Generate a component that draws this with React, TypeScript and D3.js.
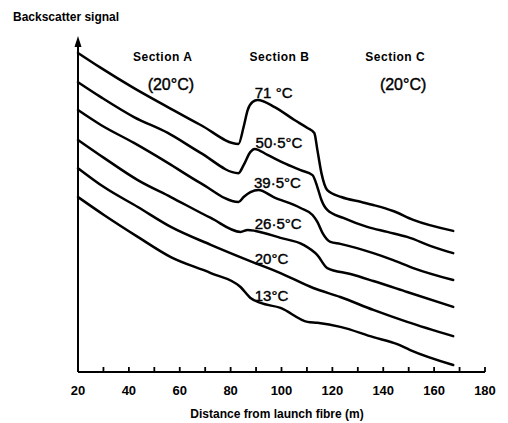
import React, { useEffect, useRef } from 'react'
import * as d3 from 'd3'

type Pt = [number, number]

// distance (m), backscatter signal (arbitrary units, 0 = axis, 100 = arrow)
const trace71: Pt[] = [
  [20, 96.1], [29, 91.6], [42, 85.5], [55.3, 79.8], [68.2, 74.4], [83.1, 68.7],
  [85.1, 73.8], [86.7, 78.9], [88.6, 81.3], [90.6, 81.9], [97.3, 79.8],
  [105.1, 75.9], [110.2, 73.5], [112.9, 72.0], [114.1, 66.9], [115.7, 59.9],
  [118, 54.8], [123.5, 52.7], [131.4, 51.2], [136.1, 50.3], [143.9, 48.5],
  [151.8, 45.8], [167.5, 42.5],
]
const trace50: Pt[] = [
  [20, 87.3], [29, 82.8], [42, 76.8], [55.3, 72.0], [68.2, 66.0], [83.1, 59.9],
  [85.1, 62.3], [87.8, 66.3], [89.4, 67.2], [94.5, 65.4], [100.8, 63.0],
  [107.5, 60.8], [112.2, 59.3], [114.1, 55.7], [115.7, 51.8], [118, 48.8],
  [124.3, 46.4], [133.7, 43.7], [141.6, 42.2], [149.4, 40.7], [159.6, 37.7],
  [167.5, 35.8],
]
const trace39: Pt[] = [
  [20, 78.9], [29, 74.4], [42, 69.0], [55.3, 63.0], [68.2, 56.9], [83.1, 51.2],
  [85.1, 52.7], [87.8, 54.2], [91.0, 54.8], [96.9, 52.7], [107.5, 49.4],
  [112.2, 47.3], [114.1, 45.2], [116.1, 41.9], [119.2, 39.2], [123.1, 38.6],
  [136.1, 35.8], [143.9, 33.7], [151.8, 31.3], [167.5, 27.7],
]
const trace26: Pt[] = [
  [20, 69.9], [30.2, 64.5], [43.5, 57.8], [56.5, 52.7], [72.2, 46.4],
  [83.9, 42.2], [86.7, 42.8], [89.8, 42.5], [99.6, 40.4], [108.6, 38.3],
  [114.1, 35.2], [118, 31.3], [127.1, 29.5], [136.1, 27.4], [149.4, 24.1],
  [167.5, 19.6],
]
const trace20: Pt[] = [
  [20, 61.4], [30.2, 55.7], [43.5, 49.7], [56.5, 43.7], [72.2, 38.3],
  [86.7, 33.7], [99.6, 29.8], [112.5, 25.3], [123.1, 22.6], [136.1, 18.7],
  [149.4, 15.1], [167.5, 10.8],
]
const trace13: Pt[] = [
  [20, 52.7], [30.2, 47.3], [43.5, 40.7], [56.5, 34.6], [72.2, 29.8],
  [83.9, 25.6], [87.8, 22.3], [91.8, 20.8], [99.6, 19.3], [110.2, 15.1],
  [114.1, 14.8], [123.1, 13.6], [136.1, 10.5], [145.5, 8.4], [150.6, 6.6],
  [167.5, 2.1],
]

const traces = [trace71, trace50, trace39, trace26, trace20, trace13]
const temperatures = ['71 °C', '50·5°C', '39·5°C', '26·5°C', '20°C', '13°C']
const labelDistance = [89.5, 89.8, 89.2, 89.5, 89.5, 89.5]
const labelSignal = [82.5, 67.5, 55.4, 43.1, 32.5, 21.4]

const sectionNames = ['Section A', 'Section B', 'Section C']
const sectionCentres = [53.3, 99.2, 144.7]
const sectionTemps = ['(20°C)', '', '(20°C)']
const sectionTempCentres = [56.5, 0, 147.8]

const xTicks = d3.range(30, 181, 10)
const xTickLabels = [20, 40, 60, 80, 100, 120, 140, 160, 180]

const W = 508
const H = 423
const FONT = '"Liberation Sans", Arial, sans-serif'

export default function App() {
  const svgRef = useRef<SVGSVGElement>(null)

  useEffect(() => {
    if (!svgRef.current) return
    const svg = d3.select(svgRef.current)
    svg.selectAll('*').remove()

    const x = d3.scaleLinear().domain([20, 180]).range([78, 485])
    const y = d3.scaleLinear().domain([0, 100]).range([372, 40])

    // y axis with arrow
    svg
      .append('line')
      .attr('x1', x(20))
      .attr('x2', x(20))
      .attr('y1', y(0))
      .attr('y2', y(100) + 4)
      .attr('stroke', '#000')
      .attr('stroke-width', 2)
    svg
      .append('path')
      .attr('d', `M${x(20)},${y(100) - 4} L${x(20) - 3.5},${y(100) + 7} L${x(20) + 3.5},${y(100) + 7} Z`)
      .attr('fill', '#000')

    // x axis
    svg
      .append('line')
      .attr('x1', x(20))
      .attr('x2', x(180))
      .attr('y1', y(0))
      .attr('y2', y(0))
      .attr('stroke', '#000')
      .attr('stroke-width', 2.2)
    svg
      .append('g')
      .selectAll('line')
      .data(xTicks)
      .join('line')
      .attr('x1', (d) => x(d))
      .attr('x2', (d) => x(d))
      .attr('y1', y(0))
      .attr('y2', y(0) - 5)
      .attr('stroke', '#000')
      .attr('stroke-width', 1.8)
    svg
      .append('g')
      .selectAll('text')
      .data(xTickLabels)
      .join('text')
      .attr('x', (d) => x(d))
      .attr('y', y(0) + 23)
      .attr('text-anchor', 'middle')
      .attr('font-family', FONT)
      .attr('font-weight', 'bold')
      .attr('font-size', 13)
      .text((d) => d)

    svg
      .append('text')
      .attr('x', 277)
      .attr('y', 418)
      .attr('text-anchor', 'middle')
      .attr('font-family', FONT)
      .attr('font-weight', 'bold')
      .attr('font-size', 12)
      .text('Distance from launch fibre (m)')

    svg
      .append('text')
      .attr('x', 13)
      .attr('y', 21)
      .attr('font-family', FONT)
      .attr('font-weight', 'bold')
      .attr('font-size', 12)
      .text('Backscatter signal')

    // section headings
    svg
      .append('g')
      .selectAll('text')
      .data(sectionNames)
      .join('text')
      .attr('x', (_, i) => x(sectionCentres[i]))
      .attr('y', 61)
      .attr('text-anchor', 'middle')
      .attr('font-family', FONT)
      .attr('font-weight', 'bold')
      .attr('font-size', 12)
      .attr('letter-spacing', 0.5)
      .text((d) => d)
    svg
      .append('g')
      .selectAll('text')
      .data(sectionTemps)
      .join('text')
      .attr('x', (_, i) => x(sectionTempCentres[i]))
      .attr('y', 90)
      .attr('text-anchor', 'middle')
      .attr('font-family', FONT)
      .attr('font-size', 16)
      .attr('stroke', '#000')
      .attr('stroke-width', 0.4)
      .text((d) => d)

    // traces
    const line = d3
      .line<Pt>()
      .x((d) => x(d[0]))
      .y((d) => y(d[1]))
      .curve(d3.curveMonotoneX)

    svg
      .append('g')
      .selectAll('path')
      .data(traces)
      .join('path')
      .attr('d', (d) => line(d))
      .attr('fill', 'none')
      .attr('stroke', '#000')
      .attr('stroke-width', 2.5)
      .attr('stroke-linejoin', 'round')
      .attr('stroke-linecap', 'round')

    svg
      .append('g')
      .selectAll('text')
      .data(temperatures)
      .join('text')
      .attr('x', (_, i) => x(labelDistance[i]))
      .attr('y', (_, i) => y(labelSignal[i]))
      .attr('font-family', FONT)
      .attr('font-size', 15)
      .attr('stroke', '#000')
      .attr('stroke-width', 0.4)
      .text((d) => d)
  }, [])

  return (
    <svg
      ref={svgRef}
      width={W}
      height={H}
      style={{ position: 'absolute', left: 0, top: 0, background: '#fff' }}
    />
  )
}
